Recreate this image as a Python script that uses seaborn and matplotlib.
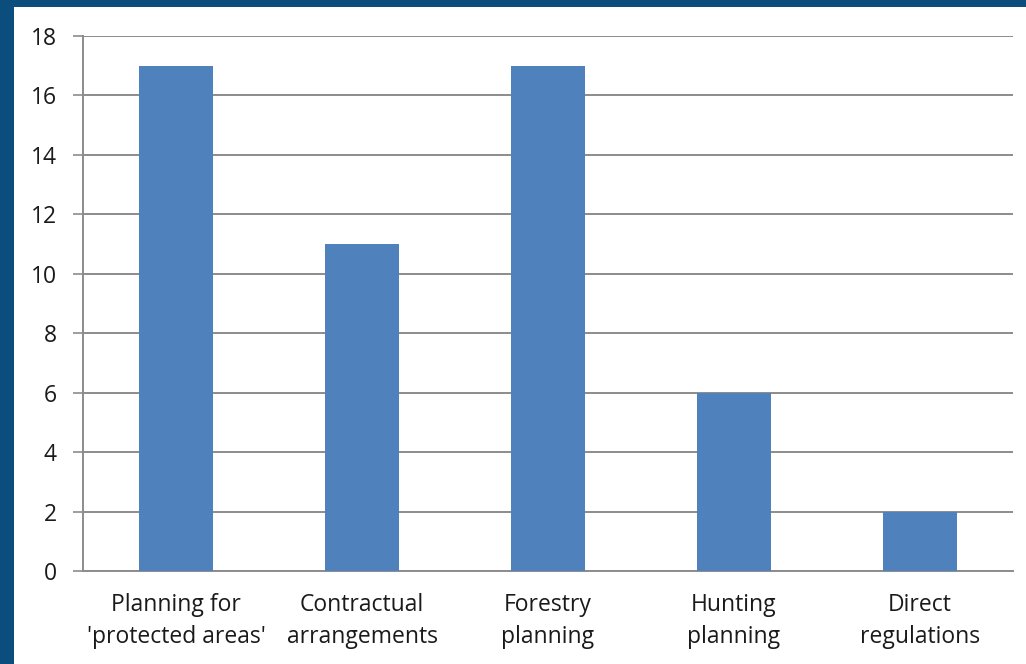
import numpy as np
import pandas as pd
import matplotlib
matplotlib.use('Agg')
import matplotlib.pyplot as plt
from matplotlib.patches import Rectangle
import seaborn as sns

# datos
categorias = ["Planning for\n'protected areas'", "Contractual\narrangements",
              "Forestry\nplanning", "Hunting\nplanning", "Direct\nregulations"]
valores = [17, 11, 17, 6, 2]

df = pd.DataFrame({'categoria': categorias, 'valor': valores})

sns.set_style('white')
plt.rcParams['font.family'] = ['Open Sans', 'DejaVu Sans']

fig = plt.figure(figsize=(10.26, 6.64), dpi=100, facecolor='#0b4d7c')
# fondo blanco dentro del marco azul
fig.patches.append(Rectangle((14 / 1026, 0), 1, 1 - 7 / 664, transform=fig.transFigure,
                             facecolor='white', edgecolor='none', zorder=-10))

ax = fig.add_axes([83 / 1026, 1 - 571 / 664, (1013 - 83) / 1026, (571 - 36) / 664])
ax.set_facecolor('none')

sns.barplot(data=df, x='categoria', y='valor', color='#4f81bd', width=0.4,
            saturation=1, linewidth=0, ax=ax, zorder=3)

ax.set_xlim(-0.5, len(categorias) - 0.5)
ax.set_ylim(0, 18)
ax.set_yticks(np.arange(0, 19, 2))
ax.yaxis.grid(True, color='#8c8c8c', linewidth=1.4, zorder=0)
ax.set_axisbelow(True)

ax.set_xlabel('')
ax.set_ylabel('')

# marcas del eje x en los limites de categoria
ax.set_xticks(np.arange(len(categorias) + 1) - 0.5, minor=True)
ax.tick_params(axis='x', which='major', length=0, pad=16, labelsize=16.5, colors='#1a1a1a')
ax.tick_params(axis='x', which='minor', length=7, width=1.2, color='#8c8c8c', direction='out')
ax.tick_params(axis='y', length=7, width=1.2, color='#8c8c8c', labelsize=16.5,
               labelcolor='#1a1a1a', pad=12, left=True)
for lbl in ax.get_xticklabels():
    lbl.set_linespacing(1.45)

for s in ['top', 'right']:
    ax.spines[s].set_visible(False)
for s in ['left', 'bottom']:
    ax.spines[s].set_visible(True)
    ax.spines[s].set_color('#8c8c8c')
    ax.spines[s].set_linewidth(1.4)

fig.savefig('out.png', dpi=100, facecolor=fig.get_facecolor())
